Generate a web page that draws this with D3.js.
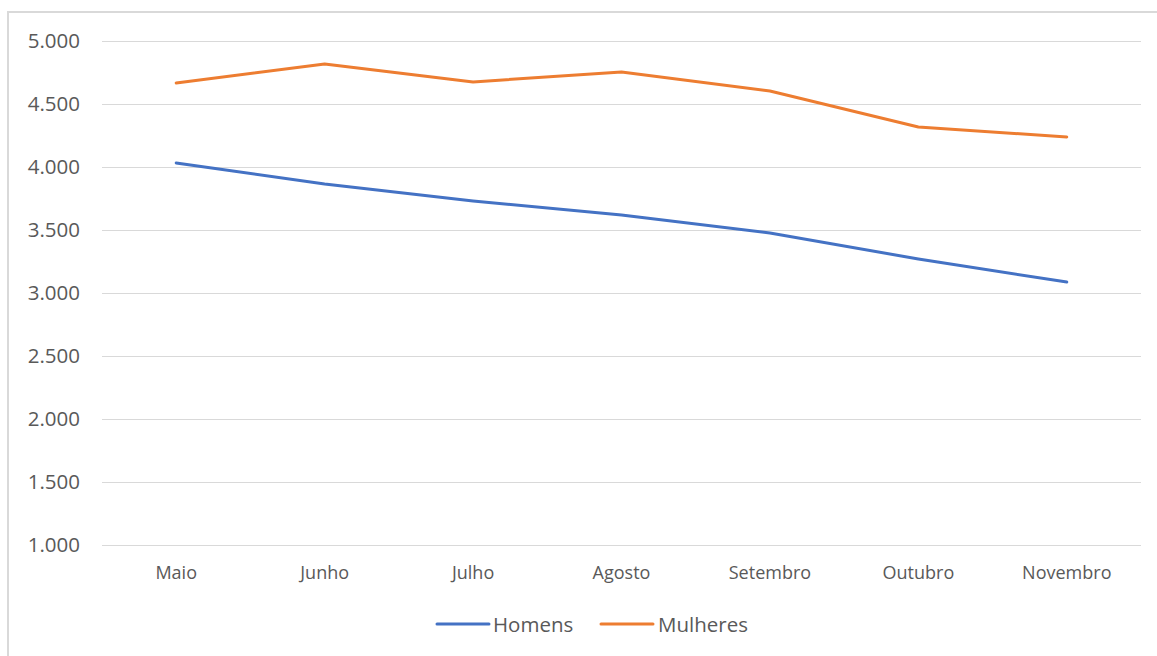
<!DOCTYPE html>
<html>
<head>
<meta charset="utf-8">
<script src="https://cdn.jsdelivr.net/npm/d3@7"></script>
<style>
  html, body { margin: 0; padding: 0; background: #fff; }
  svg { display: block; }
  text { font-family: "Open Sans", sans-serif; fill: #595959; }
</style>
</head>
<body>
<script>
// Monthly figures by sex
const months = ["Maio", "Junho", "Julho", "Agosto", "Setembro", "Outubro", "Novembro"];
const homens = [4032, 3865, 3730, 3619, 3476, 3270, 3087];
const mulheres = [4667, 4817, 4675, 4754, 4603, 4317, 4238];
const yTicks = [1000, 1500, 2000, 2500, 3000, 3500, 4000, 4500, 5000];
const seriesNames = ["Homens", "Mulheres"];
const seriesColors = ["#4472C4", "#ED7D31"];

const W = 1157, H = 656;
const plot = { left: 102, right: 1141, top: 41, bottom: 545 };

const svg = d3.select("body").append("svg").attr("width", W).attr("height", H);

// chart frame
svg.append("rect")
  .attr("x", 8).attr("y", 12)
  .attr("width", W + 20).attr("height", H + 20)
  .attr("fill", "#fff").attr("stroke", "#d9d9d9").attr("stroke-width", 2);

const x = d3.scaleBand().domain(months).range([plot.left, plot.right]);
const y = d3.scaleLinear().domain([1000, 5000]).range([plot.bottom, plot.top]);

// gridlines + value labels
const yAxis = d3.axisLeft(y)
  .tickValues(yTicks)
  .tickSize(-(plot.right - plot.left))
  .tickPadding(22)
  .tickFormat(d => d3.format(",")(d).replace(/,/g, "."));

const gy = svg.append("g")
  .attr("transform", `translate(${plot.left},0)`)
  .call(yAxis);
gy.select(".domain").remove();
gy.selectAll(".tick line").attr("stroke", "#d9d9d9").attr("stroke-width", 1);
gy.selectAll(".tick text").attr("font-size", 20.5).attr("fill", "#595959")
  .style("font-family", "'Open Sans', sans-serif");

// category labels
const xAxis = d3.axisBottom(x).tickSize(0).tickPadding(21);
const gx = svg.append("g")
  .attr("transform", `translate(0,${plot.bottom})`)
  .call(xAxis);
gx.select(".domain").remove();
gx.selectAll(".tick text").attr("font-size", 18).attr("fill", "#595959")
  .style("font-family", "'Open Sans', sans-serif");

// series lines
const line = d3.line()
  .x((d, i) => x(months[i]) + x.bandwidth() / 2)
  .y(d => y(d));

[homens, mulheres].forEach((vals, k) => {
  svg.append("path")
    .datum(vals)
    .attr("d", line)
    .attr("fill", "none")
    .attr("stroke", seriesColors[k])
    .attr("stroke-width", 3)
    .attr("stroke-linejoin", "round")
    .attr("stroke-linecap", "round");
});

// legend
const legendItems = [
  { x1: 437, x2: 489, tx: 493 },
  { x1: 601, x2: 653, tx: 658 }
];
const legend = svg.append("g");
seriesNames.forEach((name, k) => {
  const it = legendItems[k];
  legend.append("line")
    .attr("x1", it.x1).attr("x2", it.x2)
    .attr("y1", 624).attr("y2", 624)
    .attr("stroke", seriesColors[k]).attr("stroke-width", 3)
    .attr("stroke-linecap", "round");
  legend.append("text")
    .attr("x", it.tx).attr("y", 632)
    .attr("font-size", 20.5)
    .text(name);
});
</script>
</body>
</html>
